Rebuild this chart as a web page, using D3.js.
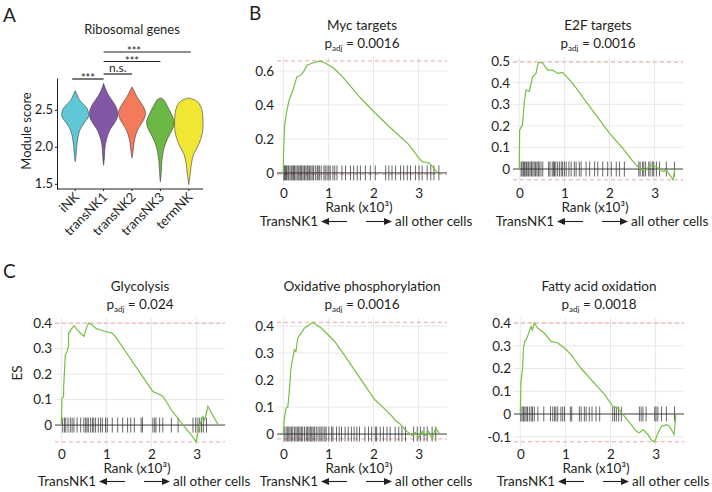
<!DOCTYPE html>
<html>
<head>
<meta charset="utf-8">
<script src="https://cdn.jsdelivr.net/npm/d3@7"></script>
<style>
  body { margin: 0; background: #fff; }
  text { font-family: Lato, "Open Sans", sans-serif; fill: #231f20; }
</style>
</head>
<body>
<div id="chart"></div>
<script>
// ---------- panel A data (violin density profiles) ----------
const groups = ['iNK', 'transNK1', 'transNK2', 'transNK3', 'termNK'];
const groupColors = ['#5ec8d6', '#8157a6', '#f37a5a', '#6cb845', '#f1e634'];

const iNKLevels = [2.76, 2.70, 2.64, 2.58, 2.52, 2.45, 2.40, 2.34, 2.28, 2.20, 2.10, 2.00, 1.90, 1.80];
const iNKDensity = [0, 0.14, 0.28, 0.55, 0.83, 0.95, 0.92, 0.70, 0.48, 0.28, 0.17, 0.10, 0.07, 0];
const transNK1Levels = [2.86, 2.80, 2.72, 2.64, 2.56, 2.48, 2.40, 2.32, 2.24, 2.15, 2.05, 1.95, 1.85, 1.75];
const transNK1Density = [0, 0.10, 0.28, 0.55, 0.83, 0.98, 0.97, 0.76, 0.48, 0.28, 0.14, 0.08, 0.055, 0];
const transNK2Levels = [2.81, 2.76, 2.68, 2.60, 2.52, 2.45, 2.38, 2.30, 2.22, 2.12, 2.02, 1.95, 1.85];
const transNK2Density = [0, 0.14, 0.34, 0.62, 0.86, 0.95, 0.86, 0.62, 0.38, 0.21, 0.12, 0.08, 0];
const transNK3Levels = [2.66, 2.64, 2.58, 2.50, 2.42, 2.34, 2.26, 2.18, 2.10, 2.00, 1.90, 1.80, 1.70, 1.60, 1.53];
const transNK3Density = [0, 0.21, 0.41, 0.62, 0.83, 0.97, 0.90, 0.69, 0.48, 0.28, 0.17, 0.10, 0.07, 0.04, 0];
const termNKLevels = [2.66, 2.62, 2.55, 2.45, 2.30, 2.20, 2.10, 2.00, 1.90, 1.80, 1.70, 1.60, 1.49];
const termNKDensity = [0, 0.55, 0.83, 0.97, 1.00, 0.97, 0.83, 0.62, 0.34, 0.21, 0.14, 0.08, 0];

const moduleTicks = [1.5, 2.0, 2.5];

// significance brackets: from group, to group, label
const sigFrom = ['iNK', 'transNK1', 'transNK1', 'transNK1'];
const sigTo = ['transNK1', 'transNK2', 'transNK3', 'termNK'];
const sigLabel = ['***', 'n.s.', '***', '***'];

// ---------- GSEA data (rank in thousands, running enrichment score) ----------
const rankTicks = [0, 1, 2, 3];

const mycRank = [0, 0.005, 0.02, 0.03, 0.06, 0.12, 0.19, 0.27, 0.30, 0.34, 0.38, 0.45, 0.53, 0.64, 0.75, 0.82, 0.93, 1.12, 1.30, 1.38, 1.70, 2.04, 2.40, 2.79, 3.00, 3.08, 3.15, 3.23, 3.30, 3.45];
const mycES = [0, 0.12, 0.22, 0.28, 0.34, 0.42, 0.47, 0.537, 0.565, 0.57, 0.573, 0.596, 0.635, 0.645, 0.655, 0.659, 0.647, 0.616, 0.57, 0.545, 0.445, 0.351, 0.26, 0.165, 0.09, 0.066, 0.063, 0.058, 0.04, -0.008];
const mycHits = [0.01, 0.03, 0.05, 0.07, 0.10, 0.12, 0.15, 0.18, 0.21, 0.23, 0.25, 0.28, 0.31, 0.34, 0.37, 0.39, 0.41, 0.44, 0.47, 0.50, 0.53, 0.55, 0.58, 0.61, 0.64, 0.67, 0.71, 0.75, 0.77, 0.80, 0.84, 0.90, 0.93, 0.97, 1.01, 1.04, 1.10, 1.14, 1.19, 1.30, 1.38, 1.49, 1.56, 1.64, 1.71, 1.82, 1.93, 2.04, 2.27, 2.34, 2.41, 2.49, 2.60, 2.67, 2.75, 2.82, 2.93, 3.01, 3.08, 3.19, 3.27, 3.34, 3.45];
const mycTicks = [0, 0.2, 0.4, 0.6];

const e2fRank = [0, 0.007, 0.07, 0.11, 0.148, 0.22, 0.296, 0.37, 0.407, 0.44, 0.52, 0.63, 0.74, 0.85, 0.96, 1.185, 1.48, 2.0, 2.296, 2.556, 2.67, 2.815, 2.89, 3.04, 3.185, 3.26, 3.41, 3.45];
const e2fES = [0, 0.18, 0.204, 0.31, 0.366, 0.36, 0.427, 0.443, 0.481, 0.495, 0.49, 0.458, 0.458, 0.443, 0.448, 0.397, 0.312, 0.165, 0.096, 0.026, 0.002, -0.005, 0.018, 0.01, -0.012, -0.005, -0.05, 0.0];
const e2fHits = [0.04, 0.06, 0.09, 0.11, 0.13, 0.16, 0.19, 0.21, 0.24, 0.27, 0.30, 0.33, 0.36, 0.39, 0.42, 0.44, 0.48, 0.52, 0.65, 0.68, 0.73, 0.76, 0.78, 0.81, 0.85, 0.89, 0.93, 0.96, 1.00, 1.04, 1.10, 1.15, 1.22, 1.26, 1.33, 1.37, 1.48, 1.56, 1.67, 1.74, 1.85, 1.96, 2.04, 2.15, 2.22, 2.33, 2.65, 2.68, 2.73, 2.76, 2.80, 2.87, 2.90, 2.95, 2.98, 3.04, 3.11, 3.26, 3.44];
const e2fTicks = [0, 0.1, 0.2, 0.3, 0.4, 0.5];

const glyRank = [0, 0.015, 0.05, 0.052, 0.09, 0.127, 0.16, 0.162, 0.24, 0.28, 0.388, 0.5, 0.575, 0.61, 0.686, 0.76, 0.87, 0.98, 1.13, 1.2, 1.5, 1.8, 2.03, 2.18, 2.25, 2.44, 2.70, 2.88, 2.99, 3.03, 3.07, 3.14, 3.18, 3.25, 3.48];
const glyES = [0, 0.106, 0.11, 0.15, 0.276, 0.29, 0.309, 0.36, 0.38, 0.39, 0.367, 0.348, 0.39, 0.40, 0.393, 0.38, 0.373, 0.367, 0.36, 0.347, 0.269, 0.191, 0.132, 0.12, 0.113, 0.06, 0.0, -0.038, -0.066, -0.03, 0.0, 0.034, 0.02, 0.073, 0.0];
const glyHits = [0.03, 0.07, 0.10, 0.15, 0.20, 0.24, 0.28, 0.35, 0.43, 0.50, 0.54, 0.57, 0.60, 0.65, 0.69, 0.72, 0.76, 0.82, 0.87, 0.91, 0.98, 1.02, 1.13, 1.25, 1.36, 1.47, 1.54, 1.62, 1.77, 1.80, 2.03, 2.07, 2.10, 2.18, 2.25, 2.44, 2.59, 2.92, 2.98, 3.03, 3.07, 3.11, 3.15, 3.22];
const glyTicks = [0, 0.1, 0.2, 0.3, 0.4];

const oxRank = [0, 0.025, 0.06, 0.1, 0.135, 0.17, 0.21, 0.246, 0.28, 0.32, 0.395, 0.47, 0.58, 0.656, 0.73, 0.84, 0.99, 1.14, 1.40, 1.70, 2.03, 2.15, 2.45, 2.48, 2.59, 2.74, 2.86, 2.93, 3.0, 3.08, 3.15, 3.22, 3.3, 3.38, 3.47];
const oxES = [0, 0.059, 0.096, 0.1, 0.164, 0.244, 0.281, 0.312, 0.306, 0.356, 0.374, 0.393, 0.405, 0.414, 0.405, 0.393, 0.368, 0.343, 0.281, 0.207, 0.127, 0.109, 0.059, 0.05, 0.037, 0.01, -0.006, 0.006, -0.012, 0.01, -0.006, 0.01, -0.018, 0.022, 0];
const oxHits = [0.02, 0.06, 0.09, 0.12, 0.15, 0.18, 0.21, 0.25, 0.28, 0.31, 0.34, 0.37, 0.40, 0.43, 0.47, 0.51, 0.54, 0.57, 0.60, 0.63, 0.66, 0.69, 0.73, 0.77, 0.81, 0.84, 0.88, 0.92, 0.95, 1.01, 1.07, 1.10, 1.18, 1.24, 1.29, 1.37, 1.44, 1.51, 1.57, 1.63, 1.69, 1.81, 1.89, 1.96, 2.04, 2.07, 2.15, 2.22, 2.30, 2.37, 2.48, 2.56, 2.63, 2.71, 2.89, 2.97, 3.04, 3.12, 3.19, 3.30, 3.38];
const oxTicks = [0, 0.1, 0.2, 0.3, 0.4];

const faoRank = [0, 0.015, 0.05, 0.07, 0.1, 0.15, 0.2, 0.237, 0.27, 0.31, 0.385, 0.53, 0.68, 0.83, 0.98, 1.13, 1.35, 1.64, 1.87, 2.05, 2.16, 2.31, 2.46, 2.57, 2.64, 2.72, 2.83, 2.9, 2.98, 3.04, 3.13, 3.24, 3.31, 3.41, 3.45];
const faoES = [0, 0.145, 0.2, 0.29, 0.32, 0.335, 0.363, 0.385, 0.37, 0.40, 0.378, 0.356, 0.319, 0.312, 0.29, 0.26, 0.20, 0.136, 0.085, 0.034, 0.026, -0.01, -0.047, -0.076, -0.083, -0.068, -0.09, -0.113, -0.122, -0.09, -0.054, -0.047, -0.054, -0.09, 0.0];
const faoHits = [0.01, 0.04, 0.07, 0.10, 0.13, 0.16, 0.20, 0.24, 0.27, 0.31, 0.39, 0.52, 0.67, 0.72, 0.76, 0.79, 0.83, 0.90, 0.94, 0.98, 1.11, 1.14, 1.31, 1.35, 1.42, 1.46, 1.53, 1.59, 1.68, 1.76, 2.05, 2.09, 2.13, 2.18, 2.24, 2.64, 2.68, 2.72, 2.79, 2.98, 3.01, 3.05, 3.13, 3.24, 3.42];
const faoTicks = [-0.1, 0, 0.1, 0.2, 0.3, 0.4];

const gseaTitles = ['Myc targets', 'E2F targets', 'Glycolysis', 'Oxidative phosphorylation', 'Fatty acid oxidation'];
const gseaPadj = ['0.0016', '0.0016', '0.024', '0.0016', '0.0018'];

// ---------- layout ----------
const width = 712, height = 492;
const green = '#74c043';

const svg = d3.select('#chart').append('svg')
    .attr('width', width)
    .attr('height', height);

// panel letters
[['A', 3, 22], ['B', 249, 20], ['C', 3, 278]].forEach(([t, x, y]) => {
    svg.append('text').attr('x', x).attr('y', y)
        .attr('font-size', '19px').text(t);
});

// ================= Panel A: violins =================
const xA = d3.scaleBand().domain(groups).range([61, 203]);
const yA = d3.scaleLinear().domain([1.43, 2.93]).range([189, 78]);
const wA = d3.scaleLinear().domain([0, 1]).range([0, 14.2]);

const violinLevels = [iNKLevels, transNK1Levels, transNK2Levels, transNK3Levels, termNKLevels];
const violinDensity = [iNKDensity, transNK1Density, transNK2Density, transNK3Density, termNKDensity];

const gA = svg.append('g');

gA.append('text')
    .attr('x', 132).attr('y', 34)
    .attr('text-anchor', 'middle')
    .attr('font-size', '13px')
    .text('Ribosomal genes');

groups.forEach((name, i) => {
    const cx = xA(name) + xA.bandwidth() / 2;
    const pts = violinLevels[i].map((v, j) => ({ v, d: violinDensity[i][j] }));
    const area = d3.area()
        .y(d => yA(d.v))
        .x0(d => cx - wA(d.d))
        .x1(d => cx + wA(d.d))
        .curve(d3.curveCatmullRom);
    gA.append('path')
        .attr('d', area(pts))
        .attr('fill', groupColors[i])
        .attr('stroke', '#3a3a3a')
        .attr('stroke-width', 0.6);
});

// y axis
const yAxisA = gA.append('g')
    .attr('transform', 'translate(57,0)')
    .call(d3.axisLeft(yA).tickValues(moduleTicks).tickFormat(d3.format('.1f')).tickSize(2).tickSizeOuter(0).tickPadding(2));
yAxisA.selectAll('text').attr('font-size', '13px').attr('font-family', 'Lato').attr('fill', '#231f20');
yAxisA.selectAll('line, path').attr('stroke', '#231f20');

// x axis
const xAxisA = gA.append('g')
    .attr('transform', 'translate(0,189)')
    .call(d3.axisBottom(xA).tickSize(2).tickSizeOuter(0));
xAxisA.select('.domain').remove();
xAxisA.selectAll('line').attr('stroke', '#231f20');
xAxisA.selectAll('text')
    .attr('font-size', '13px')
    .attr('font-family', 'Lato')
    .attr('fill', '#231f20')
    .attr('text-anchor', 'end')
    .attr('x', -3).attr('y', 5).attr('dy', '0.35em')
    .attr('transform', 'rotate(-45)');
gA.append('line')
    .attr('x1', 57).attr('x2', 203)
    .attr('y1', 189).attr('y2', 189)
    .attr('stroke', '#231f20');

gA.append('text')
    .attr('transform', 'translate(31,131) rotate(-90)')
    .attr('text-anchor', 'middle')
    .attr('font-size', '13px')
    .text('Module score');

// significance brackets
const sigY = [79, 74, 61.5, 52];
sigFrom.forEach((from, i) => {
    const x1 = xA(from) + xA.bandwidth() / 2 - (i === 0 ? 3 : 0);
    const x2 = xA(sigTo[i]) + xA.bandwidth() / 2 + (i === 3 ? 2 : 0);
    gA.append('line')
        .attr('x1', x1).attr('x2', x2)
        .attr('y1', sigY[i]).attr('y2', sigY[i])
        .attr('stroke', '#231f20').attr('stroke-width', 1.2);
    const ns = sigLabel[i] === 'n.s.';
    gA.append('text')
        .attr('x', Math.min((x1 + x2) / 2, 134))
        .attr('y', sigY[i] + (ns ? -2 : 3))
        .attr('text-anchor', 'middle')
        .attr('font-size', ns ? '12px' : '11px')
        .text(sigLabel[i]);
});

// ================= GSEA panels =================
const rowB = { top: 57, bottom: 185, pad: 3, titleY: 30, padjY: 48, rankY: 212, arrowY: 226 };
const rowC = { top: 318, bottom: 447, pad: 2, titleY: 291, padjY: 309, rankY: 473, arrowY: 486 };

const gseaPanels = [
    { left: 277, row: rowB, yDomain: [-0.071, 0.682] },
    { left: 513, row: rowB, yDomain: [-0.074, 0.519] },
    { left: 55,  row: rowC, yDomain: [-0.086, 0.42] },
    { left: 277, row: rowC, yDomain: [-0.048, 0.43] },
    { left: 514, row: rowC, yDomain: [-0.145, 0.422] }
];
const gseaRank = [mycRank, e2fRank, glyRank, oxRank, faoRank];
const gseaES = [mycES, e2fES, glyES, oxES, faoES];
const gseaHits = [mycHits, e2fHits, glyHits, oxHits, faoHits];
const gseaYTicks = [mycTicks, e2fTicks, glyTicks, oxTicks, faoTicks];

const drawGsea = (i) => {
    const p = gseaPanels[i];
    const r = p.row;
    const x = d3.scaleLinear().domain([-0.14, 3.63]).range([p.left, p.left + 170]);
    const y = d3.scaleLinear().domain(p.yDomain).range([r.bottom, r.top]);
    const g = svg.append('g');
    const cx = p.left + 85;

    // grid
    g.selectAll('line.vgrid').data(rankTicks).join('line')
        .attr('class', 'vgrid')
        .attr('x1', d => x(d)).attr('x2', d => x(d))
        .attr('y1', r.top).attr('y2', r.bottom)
        .attr('stroke', '#e8e8e8');
    g.selectAll('line.hgrid').data(gseaYTicks[i]).join('line')
        .attr('class', 'hgrid')
        .attr('x1', p.left).attr('x2', p.left + 170)
        .attr('y1', d => y(d)).attr('y2', d => y(d))
        .attr('stroke', '#e8e8e8');

    // max / min ES dashed lines
    const es = gseaES[i];
    [d3.max(es), d3.min(es)].forEach(v => {
        g.append('line')
            .attr('x1', p.left).attr('x2', p.left + 170)
            .attr('y1', y(v)).attr('y2', y(v))
            .attr('stroke', '#f4a3a3')
            .attr('stroke-dasharray', '4,3');
    });

    // hits (rug)
    g.selectAll('line.hit').data(gseaHits[i]).join('line')
        .attr('class', 'hit')
        .attr('x1', d => x(d)).attr('x2', d => x(d))
        .attr('y1', y(0) - 7.5).attr('y2', y(0) + 7.5)
        .attr('stroke', '#000')
        .attr('stroke-opacity', 0.6)
        .attr('stroke-width', 1);

    // zero line
    g.append('line')
        .attr('x1', p.left).attr('x2', p.left + 170)
        .attr('y1', y(0)).attr('y2', y(0))
        .attr('stroke', '#333').attr('stroke-width', 0.9);

    // running ES
    const pts = gseaRank[i].map((rk, j) => [rk, es[j]]);
    g.append('path')
        .attr('d', d3.line().x(d => x(d[0])).y(d => y(d[1]))(pts))
        .attr('fill', 'none')
        .attr('stroke', green)
        .attr('stroke-width', 1.2);

    // axes
    const yAx = g.append('g')
        .attr('transform', `translate(${p.left},0)`)
        .call(d3.axisLeft(y).tickValues(gseaYTicks[i])
            .tickFormat(d => d === 0 ? '0' : String(d)).tickSize(0).tickPadding(3));
    yAx.select('.domain').remove();
    yAx.selectAll('text').attr('font-size', '13.5px').attr('font-family', 'Lato').attr('fill', '#231f20');

    const xAx = g.append('g')
        .attr('transform', `translate(0,${r.bottom})`)
        .call(d3.axisBottom(x).tickValues(rankTicks).tickFormat(d3.format('d')).tickSize(0).tickPadding(r.pad));
    xAx.select('.domain').remove();
    xAx.selectAll('text').attr('font-size', '13.5px').attr('font-family', 'Lato').attr('fill', '#231f20');

    g.append('text')
        .attr('x', cx - 3).attr('y', r.rankY)
        .attr('text-anchor', 'middle')
        .attr('font-size', '13.5px')
        .text('Rank (x10³)');

    // titles
    g.append('text')
        .attr('x', cx).attr('y', r.titleY)
        .attr('text-anchor', 'middle')
        .attr('font-size', '13.5px')
        .text(gseaTitles[i]);
    const pt = g.append('text')
        .attr('x', cx).attr('y', r.padjY)
        .attr('text-anchor', 'middle')
        .attr('font-size', '13.5px');
    pt.append('tspan').text('p');
    pt.append('tspan').attr('font-size', '8px').attr('dy', 3).text('adj');
    pt.append('tspan').attr('dy', -3).text(' = ' + gseaPadj[i]);

    // direction arrows
    const c = cx - 3;
    const ay = r.arrowY - 4.5;
    g.append('text')
        .attr('x', c - 41).attr('y', r.arrowY)
        .attr('text-anchor', 'end')
        .attr('font-size', '13.5px')
        .text('TransNK1');
    g.append('line').attr('x1', c - 32).attr('x2', c - 12).attr('y1', ay).attr('y2', ay)
        .attr('stroke', '#231f20').attr('stroke-width', 1.1);
    g.append('path')
        .attr('d', `M${c - 38},${ay} L${c - 30},${ay - 3.5} L${c - 30},${ay + 3.5} Z`)
        .attr('fill', '#231f20');
    g.append('line').attr('x1', c + 7).attr('x2', c + 27).attr('y1', ay).attr('y2', ay)
        .attr('stroke', '#231f20').attr('stroke-width', 1.1);
    g.append('path')
        .attr('d', `M${c + 33},${ay} L${c + 25},${ay - 3.5} L${c + 25},${ay + 3.5} Z`)
        .attr('fill', '#231f20');
    g.append('text')
        .attr('x', c + 36).attr('y', r.arrowY)
        .attr('font-size', '13.5px')
        .text('all other cells');
};

gseaTitles.forEach((t, i) => drawGsea(i));

// ES axis title on glycolysis panel
svg.append('text')
    .attr('transform', 'translate(22,373) rotate(-90)')
    .attr('text-anchor', 'middle')
    .attr('font-size', '13.5px')
    .text('ES');
</script>
</body>
</html>
